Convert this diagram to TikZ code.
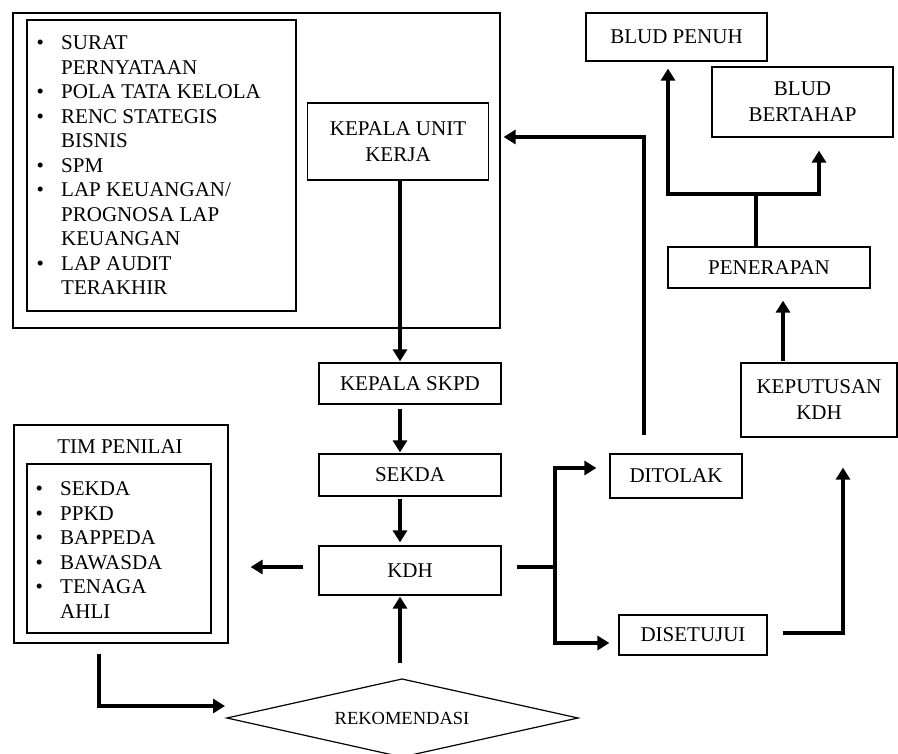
\documentclass[tikz,border=0pt]{standalone}
\usepackage{fontspec}
\setmainfont{Liberation Serif}
\usetikzlibrary{arrows.meta,calc}
\newcommand{\mybul}{\makebox[24.7pt][l]{•}}
\newcommand{\myind}{\hspace*{24.7pt}}
\begin{document}
\begin{tikzpicture}[x=1pt,y=-1pt,
  bx/.style={draw,line width=1.2pt,inner sep=0pt,align=center,font=\fontsize{21}{26}\selectfont},
  lst/.style={anchor=north west,inner sep=0pt,align=left,font=\fontsize{21}{24.5}\selectfont},
  arr/.style={line width=4pt,-{Triangle[length=12pt,width=14pt]}},
  ln/.style={line width=4pt}]
\useasboundingbox (0,0) rectangle (898,754);
\clip (0,0) rectangle (898,754);
% top-left group
\node[bx,minimum width=487pt,minimum height=315pt] (outer) at (256.5,170.5) {};
\node[bx,minimum width=269pt,minimum height=291pt] (listbox) at (161.5,165.5) {};
\node[lst] (docs) at (36.3,35.8) {\mybul SURAT\\\myind PERNYATAAN\\\mybul POLA TATA KELOLA\\\mybul RENC STATEGIS\\\myind BISNIS\\\mybul SPM\\\mybul LAP KEUANGAN/\\\myind PROGNOSA LAP\\\myind KEUANGAN\\\mybul LAP AUDIT\\\myind TERAKHIR};
\node[bx,minimum width=181pt,minimum height=77pt] (kuk) at (398,141.5) {KEPALA UNIT\\KERJA};
% middle column
\node[bx,minimum width=182pt,minimum height=41pt] (skpd) at (410,383.5) {KEPALA SKPD};
\node[bx,minimum width=182pt,minimum height=42pt] (sekda) at (410,475) {SEKDA};
\node[bx,minimum width=182pt,minimum height=49pt] (kdh) at (410,570.5) {KDH};
% tim penilai
\node[bx,minimum width=214pt,minimum height=218pt] (tim) at (121,534) {};
\node[font=\fontsize{21}{24.5}\selectfont,inner sep=0pt] (timlbl) at (120,447) {TIM PENILAI};
\node[bx,minimum width=184pt,minimum height=169pt] (timbox) at (119,548.5) {};
\node[lst] (timlist) at (35.3,481.8) {\mybul SEKDA\\\mybul PPKD\\\mybul BAPPEDA\\\mybul BAWASDA\\\mybul TENAGA\\\myind AHLI};
% diamond
\node[font=\fontsize{18.5}{22}\selectfont,inner sep=0pt] (rek) at (402,718) {REKOMENDASI};
\coordinate (rekL) at ($(rek.center)+(-175,0)$);
\coordinate (rekT) at ($(rek.center)+(0,-39)$);
\coordinate (rekR) at ($(rek.center)+(176,0)$);
\coordinate (rekB) at ($(rek.center)+(0,39)$);
\draw[line width=1.2pt] (rekL) -- (rekT) -- (rekR) -- (rekB) -- cycle;
% right side
\node[bx,minimum width=132pt,minimum height=44pt] (ditolak) at (676,476) {DITOLAK};
\node[bx,minimum width=148pt,minimum height=40pt] (disetujui) at (693,635) {DISETUJUI};
\node[bx,minimum width=156pt,minimum height=74pt] (keputusan) at (819,400) {KEPUTUSAN\\KDH};
\node[bx,minimum width=202pt,minimum height=41pt] (penerapan) at (769,267.5) {PENERAPAN};
\node[bx,minimum width=181pt,minimum height=48pt] (bludpenuh) at (676.5,37) {BLUD PENUH};
\node[bx,minimum width=181pt,minimum height=70pt] (bludbertahap) at (802.5,102) {BLUD\\BERTAHAP};
% connectors
\draw[arr] ($(kuk.south)+(2,0)$) -- ($(skpd.north)+(-10,-1)$);
\draw[arr] ($(skpd.south)+(-10,4)$) -- ($(sekda.north)+(-10,-1)$);
\draw[arr] ($(sekda.south)+(-10,2)$) -- ($(kdh.north)+(-10,-3)$);
\draw[arr] ($(kdh.west)+(-15,-3.5)$) -- ($(tim.east)+(22,33)$);
\draw[arr] ($(rekT)+(-2,-16)$) -- ($(kdh.south)+(-10,1)$);
\draw[arr] ($(tim.south)+(-22,10)$) |- ($(rekL)+(-2,-12)$);
\coordinate (split) at ($(kdh.east)+(53,-3.5)$);
\draw[ln] ($(kdh.east)+(15,-3.5)$) -- (split);
\draw[arr] (split) |- ($(ditolak.west)+(-13,-8)$);
\draw[arr] (split) |- ($(disetujui.west)+(-9,8)$);
\draw[arr] ($(ditolak.north)+(-32,-18)$) |- ($(outer.east)+(3,-33.5)$);
\draw[arr] ($(disetujui.east)+(15,-2)$) -| ($(keputusan.south)+(24,30)$);
\draw[arr] ($(keputusan.north)+(-36,-1)$) -- ($(penerapan.south)+(14,12)$);
\coordinate (br) at ($(penerapan.north)+(-13,-52)$);
\draw[ln] ($(penerapan.north)+(-13,0)$) -- (br);
\draw[arr] (br) -| ($(bludpenuh.south)+(-8.5,7)$);
\draw[arr] (br) -| ($(bludbertahap.south)+(16.5,13)$);
\end{tikzpicture}
\end{document}
